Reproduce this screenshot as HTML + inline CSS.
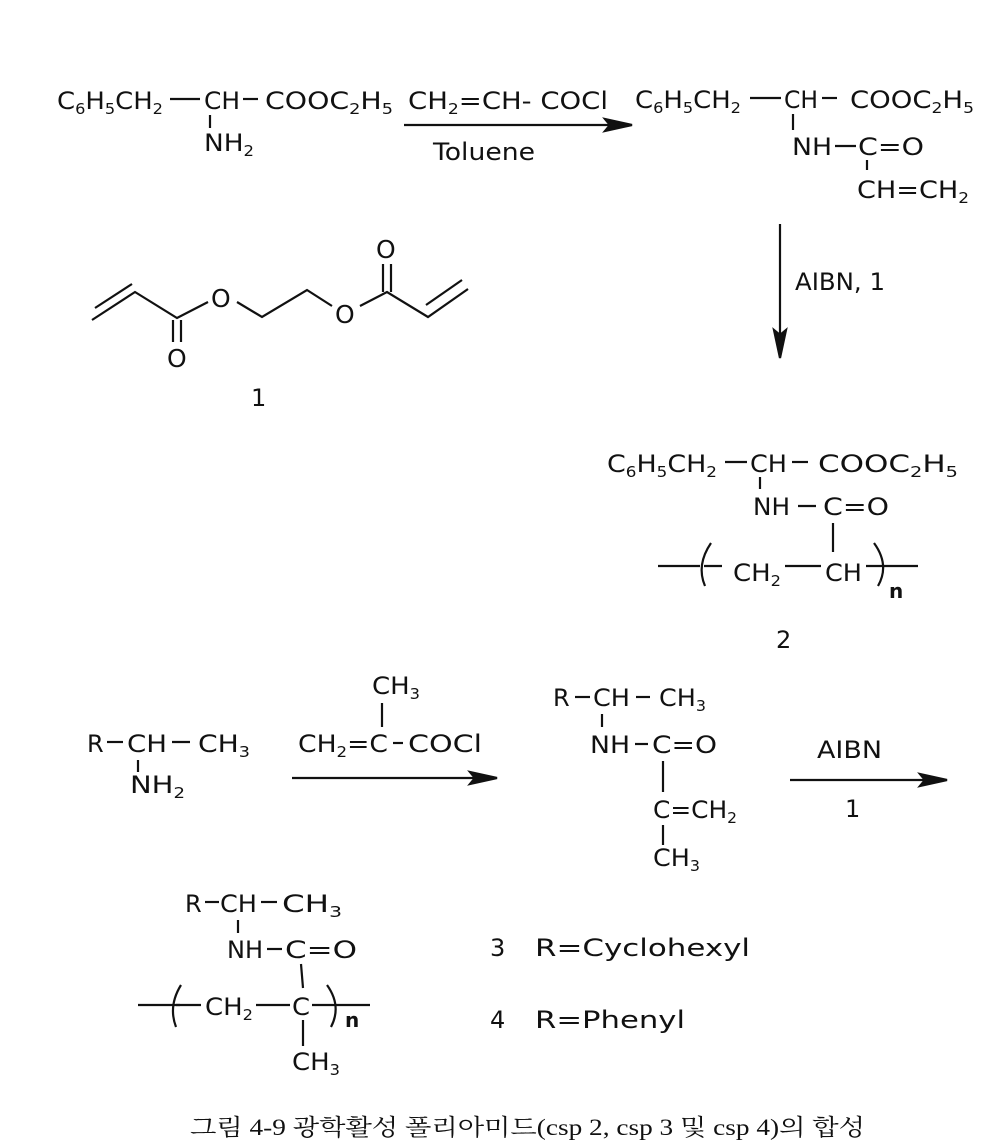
<!DOCTYPE html>
<html><head><meta charset="utf-8"><style>
html,body{margin:0;padding:0;background:#fff;}
svg{display:block;}
text{font-family:"DejaVu Sans","Liberation Sans",sans-serif;font-size:24px;fill:#111;}
.s{font-size:15px;}
.k{font-family:"Liberation Serif","Noto Serif CJK SC","Noto Sans CJK KR",serif;font-size:23px;}
line,path,polyline{stroke:#111;stroke-width:2.2;fill:none;}
</style></head><body>
<svg width="1000" height="1148" viewBox="0 0 1000 1148" xmlns="http://www.w3.org/2000/svg">
<text x="57" y="109" textLength="106" lengthAdjust="spacingAndGlyphs">C<tspan class="s" dy="5">6</tspan><tspan dy="-5">H</tspan><tspan class="s" dy="5">5</tspan><tspan dy="-5">CH</tspan><tspan class="s" dy="5">2</tspan></text>
<line x1="170" y1="99" x2="200" y2="99"/>
<text x="204" y="109" textLength="36" lengthAdjust="spacingAndGlyphs">CH</text>
<line x1="243" y1="99" x2="258" y2="99"/>
<text x="265" y="109" textLength="128" lengthAdjust="spacingAndGlyphs">COOC<tspan class="s" dy="5">2</tspan><tspan dy="-5">H</tspan><tspan class="s" dy="5">5</tspan></text>
<line x1="210" y1="115" x2="210" y2="128"/>
<text x="204" y="151" textLength="50" lengthAdjust="spacingAndGlyphs">NH<tspan class="s" dy="5">2</tspan></text>
<text x="408" y="109" textLength="200" lengthAdjust="spacingAndGlyphs">CH<tspan class="s" dy="5">2</tspan><tspan dy="-5">=CH- COCl</tspan></text>
<line x1="404" y1="125" x2="615" y2="125"/>
<path d="M632,125 L605,119 L610,125 L605,131 Z" style="fill:#111"/>
<text x="433" y="160" textLength="102" lengthAdjust="spacingAndGlyphs">Toluene</text>
<text x="635" y="108" textLength="106" lengthAdjust="spacingAndGlyphs">C<tspan class="s" dy="5">6</tspan><tspan dy="-5">H</tspan><tspan class="s" dy="5">5</tspan><tspan dy="-5">CH</tspan><tspan class="s" dy="5">2</tspan></text>
<line x1="750" y1="98" x2="781" y2="98"/>
<text x="784" y="108" textLength="34" lengthAdjust="spacingAndGlyphs">CH</text>
<line x1="822" y1="98" x2="837" y2="98"/>
<text x="850" y="108" textLength="124" lengthAdjust="spacingAndGlyphs">COOC<tspan class="s" dy="5">2</tspan><tspan dy="-5">H</tspan><tspan class="s" dy="5">5</tspan></text>
<line x1="793" y1="114" x2="793" y2="130"/>
<text x="792" y="155" textLength="40" lengthAdjust="spacingAndGlyphs">NH</text>
<line x1="835" y1="146" x2="856" y2="146"/>
<text x="858" y="155" textLength="66" lengthAdjust="spacingAndGlyphs">C=O</text>
<line x1="867" y1="160" x2="867" y2="170"/>
<text x="857" y="198" textLength="112" lengthAdjust="spacingAndGlyphs">CH=CH<tspan class="s" dy="5">2</tspan></text>
<line x1="780" y1="224" x2="780" y2="340"/>
<path d="M780,358 L774,330 L780,335 L786,330 Z" style="fill:#111"/>
<text x="795" y="290" textLength="90" lengthAdjust="spacingAndGlyphs">AIBN, 1</text>
<polyline points="92,320 135,292 177,318 208,302"/>
<line x1="95" y1="308" x2="132" y2="284"/>
<line x1="173" y1="320" x2="173" y2="342"/><line x1="181" y1="320" x2="181" y2="342"/>
<text x="211" y="307" style="font-size:25px">O</text>
<polyline points="237,302 262,317 307,290 332,306"/>
<text x="335" y="323" style="font-size:25px">O</text>
<polyline points="360,306 387,292 428,317 468,289"/>
<line x1="426" y1="305" x2="462" y2="280"/>
<line x1="383" y1="292" x2="383" y2="264"/><line x1="391" y1="292" x2="391" y2="264"/>
<text x="376" y="258" style="font-size:25px">O</text>
<text x="167" y="367" style="font-size:25px">O</text>
<text x="251" y="406">1</text>
<text x="607" y="472" textLength="110" lengthAdjust="spacingAndGlyphs">C<tspan class="s" dy="5">6</tspan><tspan dy="-5">H</tspan><tspan class="s" dy="5">5</tspan><tspan dy="-5">CH</tspan><tspan class="s" dy="5">2</tspan></text>
<line x1="725" y1="462" x2="747" y2="462"/>
<text x="750" y="472" textLength="37" lengthAdjust="spacingAndGlyphs">CH</text>
<line x1="792" y1="462" x2="808" y2="462"/>
<text x="818" y="472" textLength="140" lengthAdjust="spacingAndGlyphs">COOC<tspan class="s" dy="5">2</tspan><tspan dy="-5">H</tspan><tspan class="s" dy="5">5</tspan></text>
<line x1="760" y1="477" x2="760" y2="489"/>
<text x="753" y="515" textLength="37" lengthAdjust="spacingAndGlyphs">NH</text>
<line x1="798" y1="506" x2="816" y2="506"/>
<text x="823" y="515" textLength="66" lengthAdjust="spacingAndGlyphs">C=O</text>
<line x1="833" y1="523" x2="833" y2="552"/>
<line x1="658" y1="566" x2="700" y2="566"/>
<path d="M711,543 Q696,565 705,586"/>
<line x1="704" y1="566" x2="722" y2="566"/>
<text x="733" y="581" textLength="48" lengthAdjust="spacingAndGlyphs">CH<tspan class="s" dy="5">2</tspan></text>
<line x1="785" y1="566" x2="821" y2="566"/>
<text x="825" y="581" textLength="37" lengthAdjust="spacingAndGlyphs">CH</text>
<path d="M874,543 Q890,565 878,586"/>
<line x1="866" y1="566" x2="918" y2="566"/>
<text x="889" y="598" style="font-size:20px;font-weight:bold">n</text>
<text x="776" y="648">2</text>
<text x="87" y="752">R</text><line x1="107" y1="742" x2="123" y2="742"/>
<text x="127" y="752" textLength="40" lengthAdjust="spacingAndGlyphs">CH</text><line x1="172" y1="742" x2="190" y2="742"/>
<text x="198" y="752" textLength="52" lengthAdjust="spacingAndGlyphs">CH<tspan class="s" dy="5">3</tspan></text>
<line x1="138" y1="760" x2="138" y2="772"/>
<text x="130" y="793" textLength="55" lengthAdjust="spacingAndGlyphs">NH<tspan class="s" dy="5">2</tspan></text>
<text x="372" y="694" textLength="48" lengthAdjust="spacingAndGlyphs">CH<tspan class="s" dy="5">3</tspan></text>
<line x1="382" y1="703" x2="382" y2="727"/>
<text x="298" y="752" textLength="90" lengthAdjust="spacingAndGlyphs">CH<tspan class="s" dy="5">2</tspan><tspan dy="-5">=C</tspan></text>
<line x1="393" y1="743" x2="403" y2="743"/>
<text x="408" y="752" textLength="74" lengthAdjust="spacingAndGlyphs">COCl</text>
<line x1="292" y1="778" x2="480" y2="778"/>
<path d="M497,778 L470,772 L475,778 L470,784 Z" style="fill:#111"/>
<text x="553" y="706">R</text><line x1="575" y1="697" x2="590" y2="697"/>
<text x="593" y="706" textLength="37" lengthAdjust="spacingAndGlyphs">CH</text><line x1="636" y1="697" x2="650" y2="697"/>
<text x="659" y="706" textLength="47" lengthAdjust="spacingAndGlyphs">CH<tspan class="s" dy="5">3</tspan></text>
<line x1="602" y1="714" x2="602" y2="727"/>
<text x="590" y="753" textLength="40" lengthAdjust="spacingAndGlyphs">NH</text><line x1="635" y1="744" x2="648" y2="744"/>
<text x="652" y="753" textLength="65" lengthAdjust="spacingAndGlyphs">C=O</text>
<line x1="663" y1="761" x2="663" y2="792"/>
<text x="653" y="818" textLength="84" lengthAdjust="spacingAndGlyphs">C=CH<tspan class="s" dy="5">2</tspan></text>
<line x1="663" y1="825" x2="663" y2="845"/>
<text x="653" y="866" textLength="47" lengthAdjust="spacingAndGlyphs">CH<tspan class="s" dy="5">3</tspan></text>
<text x="817" y="758" textLength="65" lengthAdjust="spacingAndGlyphs">AIBN</text>
<line x1="790" y1="780" x2="930" y2="780"/>
<path d="M947,780 L920,774 L925,780 L920,786 Z" style="fill:#111"/>
<text x="845" y="817">1</text>
<text x="185" y="912">R</text><line x1="205" y1="902" x2="219" y2="902"/>
<text x="220" y="912" textLength="37" lengthAdjust="spacingAndGlyphs">CH</text><line x1="261" y1="902" x2="277" y2="902"/>
<text x="282" y="912" textLength="60" lengthAdjust="spacingAndGlyphs">CH<tspan class="s" dy="5">3</tspan></text>
<line x1="238" y1="920" x2="238" y2="933"/>
<text x="227" y="958" textLength="36" lengthAdjust="spacingAndGlyphs">NH</text><line x1="267" y1="949" x2="282" y2="949"/>
<text x="285" y="958" textLength="72" lengthAdjust="spacingAndGlyphs">C=O</text>
<line x1="301" y1="964" x2="303" y2="988"/>
<line x1="138" y1="1005" x2="180" y2="1005"/>
<path d="M181,985 Q168,1006 176,1027"/>
<line x1="176" y1="1005" x2="201" y2="1005"/>
<text x="205" y="1015" textLength="48" lengthAdjust="spacingAndGlyphs">CH<tspan class="s" dy="5">2</tspan></text>
<line x1="256" y1="1005" x2="290" y2="1005"/>
<text x="292" y="1015" textLength="18" lengthAdjust="spacingAndGlyphs">C</text>
<line x1="312" y1="1005" x2="370" y2="1005"/>
<path d="M327,985 Q342,1006 331,1027"/>
<text x="345" y="1027" style="font-size:20px;font-weight:bold">n</text>
<line x1="303" y1="1020" x2="303" y2="1046"/>
<text x="292" y="1070" textLength="48" lengthAdjust="spacingAndGlyphs">CH<tspan class="s" dy="5">3</tspan></text>
<text x="490" y="956">3</text>
<text x="535" y="956" textLength="215" lengthAdjust="spacingAndGlyphs">R=Cyclohexyl</text>
<text x="490" y="1028">4</text>
<text x="535" y="1028" textLength="150" lengthAdjust="spacingAndGlyphs">R=Phenyl</text>
<text x="190" y="1135" class="k" textLength="675" lengthAdjust="spacingAndGlyphs">그림 4-9  광학활성 폴리아미드(csp 2,  csp 3 및 csp 4)의 합성</text>
</svg>
</body></html>
